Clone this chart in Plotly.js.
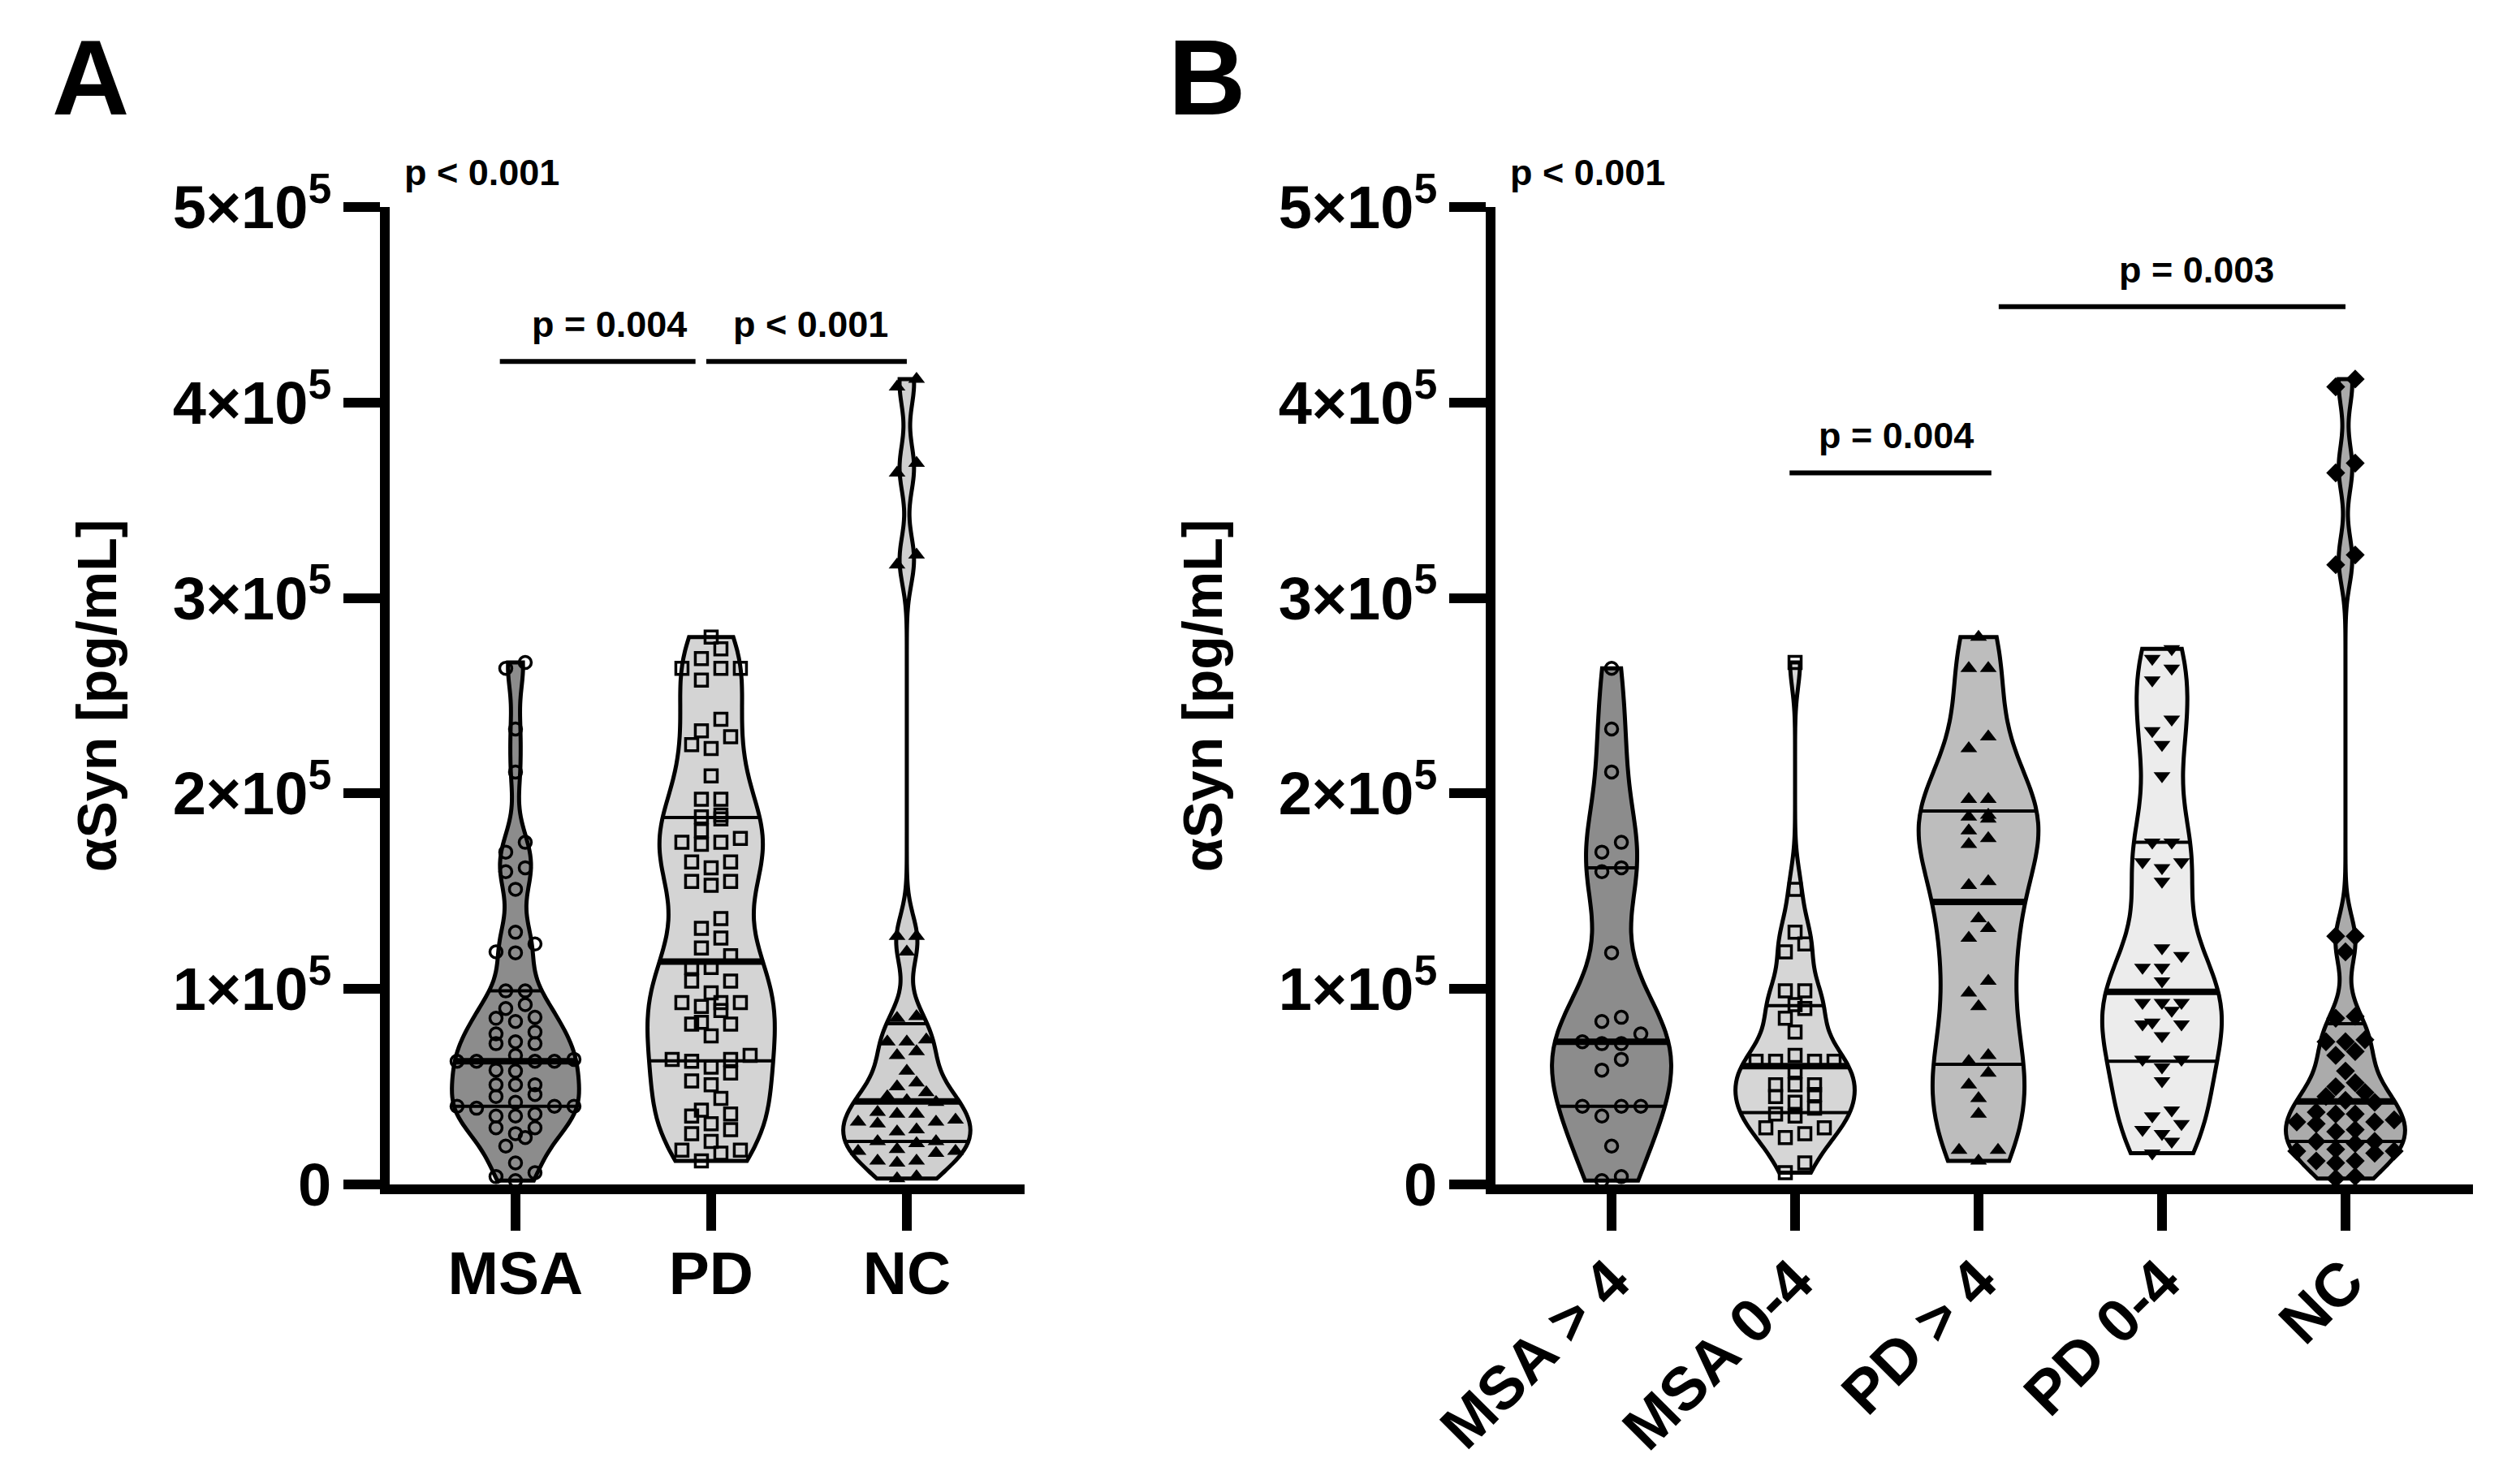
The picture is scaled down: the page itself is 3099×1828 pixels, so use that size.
<!DOCTYPE html>
<html>
<head>
<meta charset="utf-8">
<script src="https://cdn.plot.ly/plotly-3.0.1.min.js"></script>
<style>
  html, body { margin: 0; padding: 0; background: #ffffff; }
  #chart { width: 3099px; height: 1828px; }
</style>
</head>
<body>
<div id="chart"></div>
<script>
// ---------------- DATA (pg/mL) ----------------
const catsA = ['MSA', 'PD', 'NC'];
const catsB = ['MSA > 4', 'MSA 0-4', 'PD > 4', 'PD 0-4', 'NC'];

const msaGt4 = [264000, 233000, 211000, 175000, 170000, 162000, 160000, 118500, 85500, 83400,
  77000, 72000, 72000, 73000, 64000, 58500, 40000, 40000, 40000, 35000, 19600, 2000, 4000];

const msa04 = [267000, 151000, 129000, 123000, 119000, 99000, 99000, 92000, 90000, 85000,
  78000, 66000, 63000, 63000, 63000, 63000, 58000, 51000, 51000, 51000, 46000, 45000,
  42000, 39000, 36000, 35000, 29000, 29000, 26000, 24000, 11000, 6000];

const pdGt4 = [280000, 264000, 264000, 229000, 223000, 197000, 197000, 189000, 188000, 187000,
  181000, 177000, 174000, 155000, 153000, 136000, 131000, 126000, 104000, 98000, 91000,
  66000, 63000, 57000, 51000, 44000, 36000, 17500, 17500, 12000];

const pd04 = [274000, 269000, 264000, 258000, 238000, 232000, 225000, 209000, 175000, 175000,
  165000, 165000, 162000, 155000, 121000, 117000, 111000, 111000, 104000, 93000, 93000,
  93000, 89000, 83000, 82000, 82000, 76000, 64000, 64000, 60000, 53000, 38000, 35000,
  31000, 28000, 26000, 22000, 16000];

const nc = [412000, 408000, 369000, 364000, 322000, 317000, 127000, 127000, 119000, 86000,
  85000, 74000, 73000, 73000, 68000, 66000, 58000, 52000, 50000, 47000, 45000, 43000,
  42000, 37000, 36000, 36000, 33000, 32000, 32000, 31000, 28000, 27000, 22000, 22000,
  21000, 18000, 17000, 17000, 16000, 12000, 12000, 11000, 4000, 3000];

const yTickVals = [0, 100000, 200000, 300000, 400000, 500000];
const yTickText = ['0', '1×10<sup>5</sup>', '2×10<sup>5</sup>', '3×10<sup>5</sup>', '4×10<sup>5</sup>', '5×10<sup>5</sup>'];

const yTitle = 'αSyn [pg/mL]';

// comparison bars: [bar start, bar end (category units), bar y (pg/mL), label x, label]
const compA = [
  [-0.08, 0.92, 421000, 0.48, 'p = 0.004'],
  [0.975, 2.0, 421000, 1.51, 'p < 0.001']
];
const compB = [
  [0.97, 2.07, 364000, 1.55, 'p = 0.004'],
  [2.11, 4.0, 449000, 3.19, 'p = 0.003']
];
const overallP = 'p < 0.001';

// ---------------- STYLE ----------------
const FONT = 'Liberation Sans, Arial, Helvetica, sans-serif';
const W = 3099, H = 1828;
const yDomain = [1 - 1459 / H, 1 - 255 / H];
const yRange = [0, 500000];
const xDomA = [480 / W, 1262 / W];
const xRangeA = [-0.643, 2.602];
const xDomB = [1842 / W, 3046 / W];
const xRangeB = [-0.633, 4.695];
const VW = 0.65;        // violin full width in category units
const BW_FACTOR = 0.62; // smoothing relative to Silverman's rule

const groupsA = [
  { vals: msaGt4.concat(msa04), fill: '#8c8c8c', sym: 'circle-open', size: 15 },
  { vals: pdGt4.concat(pd04), fill: '#d4d4d4', sym: 'square-open', size: 15 },
  { vals: nc, fill: '#cfcfcf', sym: 'triangle-up', size: 18 }
];
const groupsB = [
  { vals: msaGt4, fill: '#8c8c8c', sym: 'circle-open', size: 15 },
  { vals: msa04, fill: '#d6d6d6', sym: 'square-open', size: 15 },
  { vals: pdGt4, fill: '#bdbdbd', sym: 'triangle-up', size: 18 },
  { vals: pd04, fill: '#ececec', sym: 'triangle-down', size: 18 },
  { vals: nc, fill: '#ababab', sym: 'diamond', size: 18 }
];

// ---------------- HELPERS ----------------
function sortAsc(a) { return a.slice().sort((p, q) => p - q); }
function quantLin(s, p) {
  const h = (s.length - 1) * p, lo = Math.floor(h);
  const hi = Math.min(lo + 1, s.length - 1);
  return s[lo] + (h - lo) * (s[hi] - s[lo]);
}
function quantGP(s, p) { // (n+1)p method
  const n = s.length, h = (n + 1) * p - 1;
  if (h <= 0) return s[0];
  if (h >= n - 1) return s[n - 1];
  const lo = Math.floor(h);
  return s[lo] + (h - lo) * (s[lo + 1] - s[lo]);
}
function bandwidth(vals) {
  const n = vals.length;
  const m = vals.reduce((a, b) => a + b, 0) / n;
  const sd = Math.sqrt(vals.reduce((a, b) => a + (b - m) * (b - m), 0) / (n - 1));
  const s = sortAsc(vals);
  const iqr = quantLin(s, 0.75) - quantLin(s, 0.25);
  return 1.059 * Math.min(sd, iqr / 1.349) * Math.pow(n, -0.2);
}
function kde(vals, bw, t) {
  let s = 0;
  for (const v of vals) { const u = (t - v) / bw; s += Math.exp(-0.5 * u * u); }
  return s / (vals.length * bw * Math.sqrt(2 * Math.PI));
}
function maxKde(vals, bw) {
  const lo = Math.min(...vals), hi = Math.max(...vals);
  const dist = hi - lo;
  const n = Math.ceil(dist / (bw / 3));
  const step = dist / n;
  let mx = 0;
  for (let k = 0, t = lo; t < hi + step / 2; k++, t += step) mx = Math.max(mx, kde(vals, bw, t));
  return mx;
}
function swarmOffsets(vals, pxPerX, pxPerY, colPx, rowPx) {
  const idx = vals.map((v, i) => i).sort((a, b) => vals[a] - vals[b]);
  const off = new Array(vals.length).fill(0);
  let row = [], rowStart = 0;
  const flush = () => {
    const k = row.length, slots = [];
    for (let j = 0; j < k; j++) slots.push(j - (k - 1) / 2);
    slots.sort((a, b) => Math.abs(a) - Math.abs(b) || a - b);
    row.forEach((id, j) => { off[id] = slots[j] * colPx / pxPerX; });
    row = [];
  };
  idx.forEach(id => {
    const ypx = vals[id] * pxPerY;
    if (row.length && ypx - rowStart > rowPx) flush();
    if (!row.length) rowStart = ypx;
    row.push(id);
  });
  if (row.length) flush();
  return off;
}

// ---------------- TRACES ----------------
const pxPerY = (yDomain[1] - yDomain[0]) * H / (yRange[1] - yRange[0]);
const violins = [], lines = [], points = [];

function buildPanel(groups, xa, ya, xDom, xRange) {
  const pxPerX = (xDom[1] - xDom[0]) * W / (xRange[1] - xRange[0]);
  groups.forEach((g, i) => {
    const bw = bandwidth(g.vals) * BW_FACTOR;
    violins.push({
      type: 'violin', x0: i, y: g.vals, xaxis: xa, yaxis: ya,
      width: VW, bandwidth: bw, spanmode: 'hard', scalemode: 'width',
      fillcolor: g.fill, line: { color: '#000', width: 5 },
      points: false, box: { visible: false }, meanline: { visible: false },
      hoverinfo: 'skip', showlegend: false
    });
    const s = sortAsc(g.vals);
    const mk = maxKde(g.vals, bw);
    [[0.25, 4], [0.5, 8], [0.75, 4]].forEach(([p, lw]) => {
      const q = quantGP(s, p);
      const hw = (VW / 2) * kde(g.vals, bw, q) / mk;
      lines.push({
        type: 'scatter', mode: 'lines', x: [i - hw, i + hw], y: [q, q],
        xaxis: xa, yaxis: ya, line: { color: '#000', width: lw },
        hoverinfo: 'skip', showlegend: false
      });
    });
    const off = swarmOffsets(g.vals, pxPerX, pxPerY, 24, 15);
    const isOpen = g.sym.indexOf('open') >= 0;
    points.push({
      type: 'scatter', mode: 'markers', x: g.vals.map((v, k) => i + off[k]), y: g.vals,
      xaxis: xa, yaxis: ya, cliponaxis: false,
      marker: {
        symbol: g.sym, size: g.size, color: '#000',
        line: { color: '#000', width: isOpen ? 3.5 : 0 }
      },
      hoverinfo: 'skip', showlegend: false
    });
  });
}
buildPanel(groupsA, 'x', 'y', xDomA, xRangeA);
buildPanel(groupsB, 'x2', 'y2', xDomB, xRangeB);

// ---------------- LAYOUT ----------------
function xAxis(dom, rng, cats, angle, anchor, standoff) {
  return {
    domain: dom, range: rng, anchor: anchor, type: 'linear',
    tickmode: 'array', tickvals: cats.map((c, i) => i), ticktext: cats,
    tickangle: angle, ticklabelstandoff: standoff,
    showline: true, linewidth: 12, linecolor: '#000', mirror: false,
    ticks: 'outside', ticklen: 45, tickwidth: 12, tickcolor: '#000',
    tickfont: { family: FONT, size: 75, color: '#000', weight: 'bold' },
    showgrid: false, zeroline: false, fixedrange: true, automargin: false
  };
}
function yAxis(anchor) {
  return {
    domain: yDomain, range: yRange, anchor: anchor,
    tickmode: 'array', tickvals: yTickVals, ticktext: yTickText,
    showline: true, linewidth: 12, linecolor: '#000',
    ticks: 'outside', ticklen: 45, tickwidth: 12, tickcolor: '#000',
    tickfont: { family: FONT, size: 74, color: '#000', weight: 'bold' },
    title: { text: yTitle, font: { family: FONT, size: 68, color: '#000', weight: 'bold' }, standoff: 52 },
    showgrid: false, zeroline: false, fixedrange: true, automargin: false
  };
}

const annotations = [];
const shapes = [];
const pFont = { family: FONT, size: 45, color: '#000', weight: 'bold' };
function addComparisons(comps, xr, yr) {
  comps.forEach(([x0, x1, y, tx, txt]) => {
    shapes.push({ type: 'line', xref: xr, yref: yr, x0: x0, x1: x1, y0: y, y1: y,
      line: { color: '#000', width: 6 } });
    annotations.push({ xref: xr, yref: yr, x: tx, y: y, yanchor: 'bottom', yshift: 18,
      text: txt, showarrow: false, font: pFont });
  });
}
addComparisons(compA, 'x', 'y');
addComparisons(compB, 'x2', 'y2');
annotations.push({ xref: 'x', yref: 'paper', x: -0.17, y: 1 - 212 / H, yanchor: 'middle', text: overallP,
  showarrow: false, font: pFont });
annotations.push({ xref: 'x2', yref: 'paper', x: -0.13, y: 1 - 212 / H, yanchor: 'middle', text: overallP,
  showarrow: false, font: pFont });
annotations.push({ xref: 'paper', yref: 'paper', x: 62 / W, y: 1 - 96 / H, xanchor: 'left', yanchor: 'middle',
  text: 'A', showarrow: false, font: { family: FONT, size: 132, color: '#000', weight: 'bold' } });
annotations.push({ xref: 'paper', yref: 'paper', x: 1437 / W, y: 1 - 96 / H, xanchor: 'left', yanchor: 'middle',
  text: 'B', showarrow: false, font: { family: FONT, size: 132, color: '#000', weight: 'bold' } });

const layout = {
  width: W, height: H, margin: { l: 0, r: 0, t: 0, b: 0 },
  paper_bgcolor: '#ffffff', plot_bgcolor: 'rgba(0,0,0,0)',
  showlegend: false, hovermode: false,
  violinmode: 'overlay', violingap: 0, violingroupgap: 0,
  font: { family: FONT, color: '#000' },
  xaxis: xAxis(xDomA, xRangeA, catsA, 0, 'y', -12),
  yaxis: yAxis('x'),
  xaxis2: xAxis(xDomB, xRangeB, catsB, -45, 'y2', -12),
  yaxis2: yAxis('x2'),
  annotations: annotations,
  shapes: shapes
};

Plotly.newPlot('chart', violins.concat(lines, points), layout, { staticPlot: true, displayModeBar: false });
</script>
</body>
</html>
